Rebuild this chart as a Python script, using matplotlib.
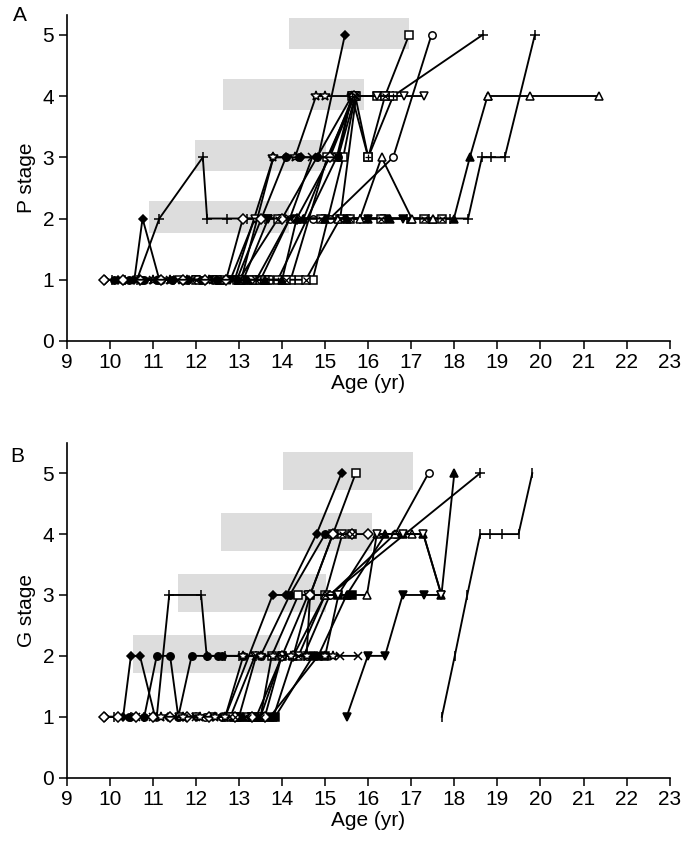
import matplotlib
matplotlib.use("Agg")
import matplotlib.pyplot as plt
from matplotlib.patches import Rectangle

plt.rcParams['font.family'] = ['Liberation Sans', 'DejaVu Sans']

# ---- panel A: pubic hair (P) stage per subject ----
A_AGE = [
    [9.9, 10.2, 10.57, 10.76, 11.15, 11.5, 11.85, 12.2, 12.55, 12.9, 13.8, 14.1, 14.45, 14.84, 15.46],
    [10.05, 10.35, 10.63, 11.15, 12.16, 12.26, 12.71, 13.18, 13.6, 14.0, 14.5, 15.65, 16.58, 18.66],
    [15.3, 15.8, 16.3, 16.9, 17.4, 17.9, 18.32, 18.64, 18.86, 19.17, 19.87],
    [10.3, 10.75, 11.2, 11.7, 12.1, 12.6, 13.1, 13.5, 14.18, 14.72, 15.11, 16.58, 17.47],
    [12.55, 12.95, 13.35, 13.64, 14.02, 14.4, 14.71, 15.42, 15.7, 16.0, 16.39, 16.95],
    [13.1, 13.49, 13.9, 15.27, 15.62, 16.0, 16.58],
    [13.3, 13.7, 14.2, 15.05, 15.68, 16.2],
    [13.6, 14.1, 14.55, 15.35, 15.72, 16.39],
    [11.6, 12.0, 12.4, 12.8, 13.37, 13.68, 14.0, 15.62, 16.2, 16.82, 17.3],
    [12.0, 12.4, 12.8, 13.1, 13.68, 14.3, 15.0, 15.5, 16.0, 16.41, 16.81],
    [11.0, 11.4, 11.8, 12.3, 12.7, 13.05, 13.8, 14.3, 14.79, 15.0, 15.62],
    [12.0, 12.5, 13.0, 13.91, 14.9, 15.58, 16.3, 17.3, 17.71],
    [10.1, 10.45, 10.8, 11.1, 11.45, 11.8, 12.15, 12.5, 12.95, 14.09, 14.4, 14.8, 15.3, 15.62],
    [9.87, 10.3, 10.7, 11.2, 11.7, 12.2, 12.7, 13.09, 13.5, 14.0, 14.34, 15.11, 15.68],
    [10.6, 11.0, 11.4, 11.9, 12.4, 13.0, 13.4, 14.18, 14.7, 15.3, 15.7],
    [13.2, 13.6, 14.0, 14.34, 14.49, 15.0, 15.5, 16.0, 16.5, 17.0, 17.5, 17.99, 18.36, 18.77],
    [18.77, 19.75, 21.37],
    [15.3, 15.81, 16.31, 17.01, 17.5],
]
A_STAGE = [
    [1, 1, 1, 2, 1, 1, 1, 1, 1, 1, 3, 3, 3, 3, 5],
    [1, 1, 1, 2, 3, 2, 2, 2, 2, 2, 2, 4, 4, 5],
    [2, 2, 2, 2, 2, 2, 2, 3, 3, 3, 5],
    [1, 1, 1, 1, 1, 1, 1, 1, 2, 2, 2, 3, 5],
    [1, 1, 1, 1, 1, 1, 1, 3, 4, 3, 4, 5],
    [1, 1, 1, 3, 4, 3, 4],
    [1, 1, 1, 3, 4, 4],
    [1, 1, 1, 2, 4, 4],
    [1, 1, 1, 1, 2, 2, 2, 4, 4, 4, 4],
    [1, 1, 1, 1, 2, 2, 2, 2, 2, 2, 2],
    [1, 1, 1, 1, 1, 1, 3, 3, 4, 4, 4],
    [1, 1, 1, 2, 2, 2, 2, 2, 2],
    [1, 1, 1, 1, 1, 1, 1, 1, 1, 3, 3, 3, 3, 4],
    [1, 1, 1, 1, 1, 1, 1, 2, 2, 2, 2, 3, 4],
    [1, 1, 1, 1, 1, 1, 1, 2, 3, 3, 4],
    [1, 1, 1, 2, 2, 2, 2, 2, 2, 2, 2, 2, 3, 4],
    [4, 4, 4],
    [2, 2, 3, 2, 2],
]
A_MARK = ["D", "+", "+", "o", "s", "s+", "s", "sx", "v", "vf", "*", "sx",
          "of", "d", "x", "^f", "^", "^"]

# ---- panel B: genital (G) stage per subject ----
B_AGE = [
    [9.9, 10.2, 10.31, 10.49, 10.7, 11.05, 11.35, 11.7, 12.0, 12.3, 12.68, 13.78, 14.1, 14.8, 15.38],
    [10.45, 10.8, 11.09, 11.4, 11.59, 11.9, 12.26, 12.52, 12.6, 13.1, 13.5, 14.18, 15.0],
    [10.1, 10.5, 10.8, 11.09, 11.38, 12.12, 12.25, 12.68, 13.0, 13.4, 14.0, 14.5, 15.11, 18.6],
    [12.7, 13.0, 13.3, 13.5, 13.76, 14.38, 14.65, 15.18, 15.71],
    [12.9, 13.2, 13.5, 13.99, 14.38, 15.0, 15.4, 15.62],
    [12.2, 12.6, 13.0, 13.4, 14.0, 14.57, 14.65, 15.11, 16.62, 17.4],
    [13.5, 13.8, 14.26, 15.0, 15.5, 15.97, 16.2, 16.62, 17.01],
    [12.9, 13.3, 13.6, 13.84, 14.72, 15.0, 15.31, 15.62],
    [13.1, 13.45, 13.72, 14.84, 15.5, 16.4, 16.8, 17.28, 17.7, 18.0],
    [15.5, 15.99, 16.39, 16.8, 17.3, 17.7],
    [11.6, 12.0, 12.4, 12.8, 13.37, 14.0, 14.6, 15.3, 16.2, 16.8, 17.28, 17.7],
    [10.6, 11.0, 11.5, 12.0, 12.5, 13.0, 13.4, 14.0, 14.84, 15.35, 15.77],
    [17.71, 18.01, 18.3, 18.6, 18.83, 19.1, 19.49, 19.81],
    [9.87, 10.2, 10.6, 11.0, 11.4, 11.8, 12.3, 12.9, 13.3, 13.6, 13.99, 14.26, 14.65, 15.18, 15.62, 16.0],
    [11.2, 11.7, 12.1, 12.45, 12.68, 13.1, 13.5, 13.8, 14.2, 14.57, 15.0, 15.19],
]
B_STAGE = [
    [1, 1, 1, 2, 2, 1, 1, 1, 1, 1, 1, 3, 3, 4, 5],
    [1, 1, 2, 2, 1, 2, 2, 2, 2, 2, 2, 3, 4],
    [1, 1, 1, 1, 3, 3, 2, 2, 2, 2, 2, 2, 3, 5],
    [1, 1, 1, 1, 2, 3, 3, 4, 5],
    [1, 1, 1, 2, 2, 3, 4, 4],
    [1, 1, 1, 1, 2, 2, 3, 3, 4, 5],
    [1, 1, 2, 3, 3, 3, 4, 4, 4],
    [1, 1, 1, 1, 2, 2, 3, 3],
    [1, 1, 1, 2, 3, 4, 4, 4, 3, 5],
    [1, 2, 2, 3, 3, 3],
    [1, 1, 1, 1, 2, 2, 3, 3, 4, 4, 4, 3],
    [1, 1, 1, 1, 1, 1, 2, 2, 2, 2, 2],
    [1, 2, 3, 4, 4, 4, 4, 5],
    [1, 1, 1, 1, 1, 1, 1, 1, 1, 1, 2, 2, 3, 4, 4, 4],
    [1, 1, 1, 1, 1, 2, 2, 2, 2, 2, 2, 2],
]
B_MARK = ["D", "of", "+", "s", "sx", "o", "^", "sf", "^f", "vf", "v", "x", "|", "d", "*"]

# shaded bands: (stage, age from, age to)
A_BANDS = [(2, 10.92, 14.15), (3, 11.98, 15.02), (4, 12.63, 15.90), (5, 14.17, 16.95)]
B_BANDS = [(2, 10.53, 13.95), (3, 11.59, 15.02), (4, 12.58, 16.08), (5, 14.03, 17.03)]


def draw_subject(ax, x, y, code):
    base = code[0]
    fill = "k" if code.endswith("f") or code == "D" else "white"
    m = {"D": "D", "d": "D", "s": "s", "o": "o", "^": "^", "v": "v",
         "+": "+", "x": "x", "*": "*", "|": "|"}[base]
    ms = {"D": 4.2, "d": 4.7, "s": 5.3, "o": 5.3, "^": 5.8, "v": 5.8,
          "+": 7.5, "x": 5.5, "*": 7, "|": 6.5}[base]
    ax.plot(x, y, color="k", lw=1.35, marker=m, ms=ms, mfc=fill, mec="k",
            mew=1.1, zorder=3, clip_on=False)
    if len(code) > 1 and code[1] in "+x":
        ax.plot(x, y, ls="none", marker=code[1], ms=4.8, mec="k", mew=0.9,
                zorder=4, clip_on=False)


def panel(ax, ages, stages, marks, bands, band_lo, band_h, ytop, ylab):
    for st, a0, a1 in bands:
        ax.add_patch(Rectangle((a0, st - band_lo), a1 - a0, band_h,
                               facecolor="#dddddd", edgecolor="none", zorder=1))
    for x, y, c in zip(ages, stages, marks):
        draw_subject(ax, x, y, c)
    ax.set_xlim(9, 23)
    ax.set_ylim(0, ytop)
    ax.set_xticks(range(9, 24))
    ax.set_yticks(range(0, 6))
    ax.spines[["top", "right"]].set_visible(False)
    ax.spines[["left", "bottom"]].set_linewidth(1.2)
    ax.tick_params(direction="out", length=6, width=1.1, labelsize=15, pad=3)
    ax.set_xlabel("Age (yr)", fontsize=15, labelpad=1)
    ax.set_ylabel(ylab, fontsize=15, labelpad=5)
    return ax


fig = plt.figure(figsize=(6.83, 8.43), dpi=100)
axA = fig.add_axes([0.0977, 0.5955, 0.8828, 0.3865])
axB = fig.add_axes([0.0977, 0.0775, 0.8828, 0.3973])
panel(axA, A_AGE, A_STAGE, A_MARK, A_BANDS, 0.23, 0.51, 5.32, "P stage")
panel(axB, B_AGE, B_STAGE, B_MARK, B_BANDS, 0.28, 0.62, 5.5, "G stage")
fig.text(0.029, 0.982, "A", fontsize=15, ha="center", va="center")
fig.text(0.025, 0.458, "B", fontsize=15, ha="center", va="center")
fig.savefig("out.png", dpi=100)
